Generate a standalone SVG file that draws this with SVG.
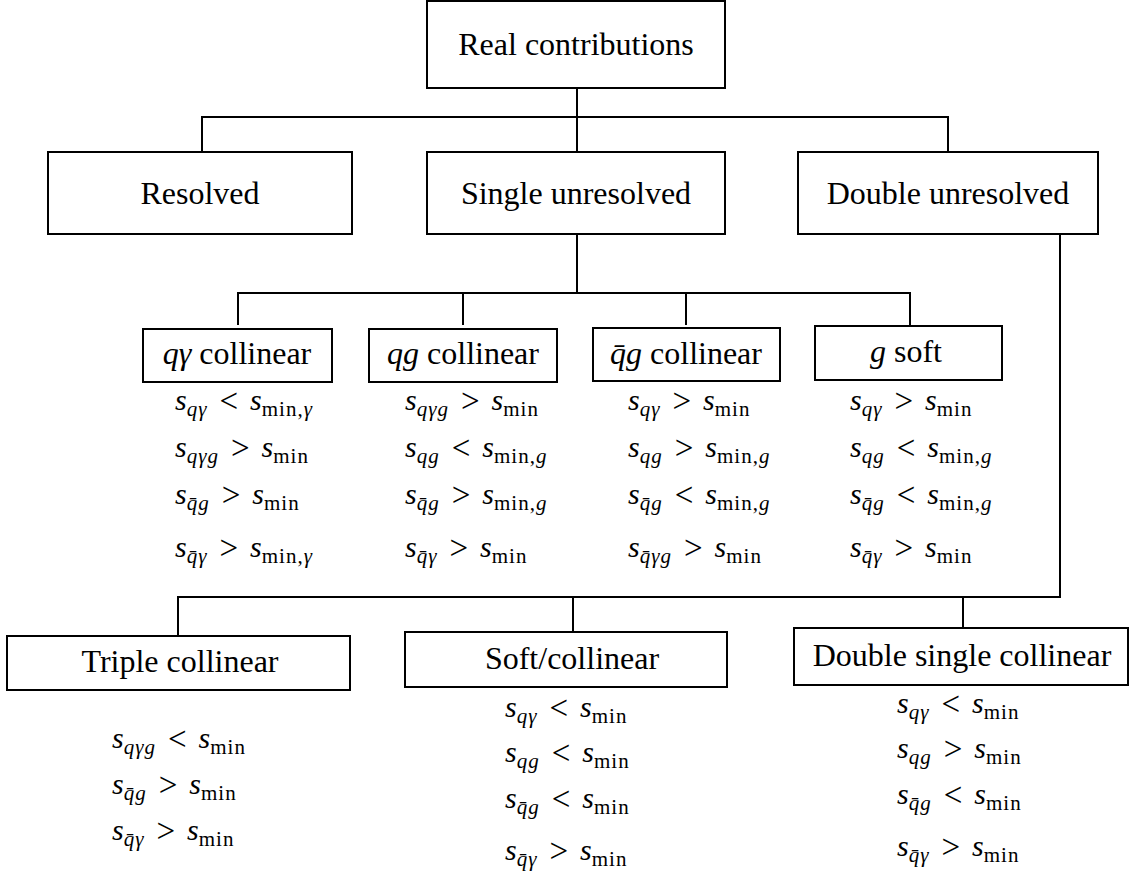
<svg xmlns="http://www.w3.org/2000/svg" width="1139" height="875" viewBox="0 0 1139 875">
<style>
text{font-family:"Liberation Serif","Times New Roman",serif;fill:#000}
.h{font-size:32px;text-anchor:middle}
.c{font-size:30px}
.i{font-style:italic}
.sb{font-size:21px;letter-spacing:1px}
.r{font-size:33px}
rect{fill:#fff;stroke:#000;stroke-width:2}
#connectors path{fill:none;stroke:#000;stroke-width:2}
</style>
<rect x="0" y="0" width="1139" height="875" style="stroke:none"/>
<g id="connectors">
<path d="M577 88V152M202 152V117H948V152"/>
<path d="M577 234V293M238 325V293H910V325M463 293V325M686 293V325"/>
<path d="M1060 234V597H178V636M573 597V632M963 597V628"/>
</g>
<g id="real"><rect x="427" y="1" width="298" height="87"/><text class="h" x="576" y="55">Real contributions</text></g>
<g id="resolved"><rect x="48" y="152" width="304" height="82"/><text class="h" x="200" y="204">Resolved</text></g>
<g id="single"><rect x="427" y="152" width="298" height="82"/><text class="h" x="576" y="204">Single unresolved</text></g>
<g id="double"><rect x="798" y="152" width="300" height="82"/><text class="h" x="948" y="204">Double unresolved</text></g>

<g id="qgamma"><rect x="143" y="329" width="189" height="53"/><text class="h" x="237" y="364"><tspan class="i">qγ</tspan> collinear</text>
<text class="c" x="175" y="410"><tspan class="i">s</tspan><tspan class="sb i" dy="6">qγ</tspan><tspan class="r" dy="-4" dx="12">&lt;</tspan><tspan class="i" dx="12" dy="-2">s</tspan><tspan class="sb" dy="6">min,<tspan class="i">γ</tspan></tspan></text>
<text class="c" x="175" y="457"><tspan class="i">s</tspan><tspan class="sb i" dy="6">qγg</tspan><tspan class="r" dy="-4" dx="12">&gt;</tspan><tspan class="i" dx="12" dy="-2">s</tspan><tspan class="sb" dy="6">min</tspan></text>
<text class="c" x="175" y="504"><tspan class="i">s</tspan><tspan class="sb i" dy="6">q̄g</tspan><tspan class="r" dy="-4" dx="12">&gt;</tspan><tspan class="i" dx="12" dy="-2">s</tspan><tspan class="sb" dy="6">min</tspan></text>
<text class="c" x="175" y="557"><tspan class="i">s</tspan><tspan class="sb i" dy="6">q̄γ</tspan><tspan class="r" dy="-4" dx="12">&gt;</tspan><tspan class="i" dx="12" dy="-2">s</tspan><tspan class="sb" dy="6">min,<tspan class="i">γ</tspan></tspan></text>
</g>

<g id="qg"><rect x="369" y="329" width="188" height="53"/><text class="h" x="463" y="364"><tspan class="i">qg</tspan> collinear</text>
<text class="c" x="405" y="410"><tspan class="i">s</tspan><tspan class="sb i" dy="6">qγg</tspan><tspan class="r" dy="-4" dx="12">&gt;</tspan><tspan class="i" dx="12" dy="-2">s</tspan><tspan class="sb" dy="6">min</tspan></text>
<text class="c" x="405" y="457"><tspan class="i">s</tspan><tspan class="sb i" dy="6">qg</tspan><tspan class="r" dy="-4" dx="12">&lt;</tspan><tspan class="i" dx="12" dy="-2">s</tspan><tspan class="sb" dy="6">min,<tspan class="i">g</tspan></tspan></text>
<text class="c" x="405" y="504"><tspan class="i">s</tspan><tspan class="sb i" dy="6">q̄g</tspan><tspan class="r" dy="-4" dx="12">&gt;</tspan><tspan class="i" dx="12" dy="-2">s</tspan><tspan class="sb" dy="6">min,<tspan class="i">g</tspan></tspan></text>
<text class="c" x="405" y="557"><tspan class="i">s</tspan><tspan class="sb i" dy="6">q̄γ</tspan><tspan class="r" dy="-4" dx="12">&gt;</tspan><tspan class="i" dx="12" dy="-2">s</tspan><tspan class="sb" dy="6">min</tspan></text>
</g>

<g id="qbarg"><rect x="593" y="328" width="187" height="53"/><text class="h" x="686" y="364"><tspan class="i">q̄g</tspan> collinear</text>
<text class="c" x="628" y="410"><tspan class="i">s</tspan><tspan class="sb i" dy="6">qγ</tspan><tspan class="r" dy="-4" dx="12">&gt;</tspan><tspan class="i" dx="12" dy="-2">s</tspan><tspan class="sb" dy="6">min</tspan></text>
<text class="c" x="628" y="457"><tspan class="i">s</tspan><tspan class="sb i" dy="6">qg</tspan><tspan class="r" dy="-4" dx="12">&gt;</tspan><tspan class="i" dx="12" dy="-2">s</tspan><tspan class="sb" dy="6">min,<tspan class="i">g</tspan></tspan></text>
<text class="c" x="628" y="504"><tspan class="i">s</tspan><tspan class="sb i" dy="6">q̄g</tspan><tspan class="r" dy="-4" dx="12">&lt;</tspan><tspan class="i" dx="12" dy="-2">s</tspan><tspan class="sb" dy="6">min,<tspan class="i">g</tspan></tspan></text>
<text class="c" x="628" y="557"><tspan class="i">s</tspan><tspan class="sb i" dy="6">q̄γg</tspan><tspan class="r" dy="-4" dx="12">&gt;</tspan><tspan class="i" dx="12" dy="-2">s</tspan><tspan class="sb" dy="6">min</tspan></text>
</g>

<g id="gsoft"><rect x="815" y="326" width="187" height="54"/><text class="h" x="906" y="362"><tspan class="i">g</tspan> soft</text>
<text class="c" x="850" y="410"><tspan class="i">s</tspan><tspan class="sb i" dy="6">qγ</tspan><tspan class="r" dy="-4" dx="12">&gt;</tspan><tspan class="i" dx="12" dy="-2">s</tspan><tspan class="sb" dy="6">min</tspan></text>
<text class="c" x="850" y="457"><tspan class="i">s</tspan><tspan class="sb i" dy="6">qg</tspan><tspan class="r" dy="-4" dx="12">&lt;</tspan><tspan class="i" dx="12" dy="-2">s</tspan><tspan class="sb" dy="6">min,<tspan class="i">g</tspan></tspan></text>
<text class="c" x="850" y="504"><tspan class="i">s</tspan><tspan class="sb i" dy="6">q̄g</tspan><tspan class="r" dy="-4" dx="12">&lt;</tspan><tspan class="i" dx="12" dy="-2">s</tspan><tspan class="sb" dy="6">min,<tspan class="i">g</tspan></tspan></text>
<text class="c" x="850" y="557"><tspan class="i">s</tspan><tspan class="sb i" dy="6">q̄γ</tspan><tspan class="r" dy="-4" dx="12">&gt;</tspan><tspan class="i" dx="12" dy="-2">s</tspan><tspan class="sb" dy="6">min</tspan></text>
</g>

<g id="triple"><rect x="7" y="636" width="343" height="54"/><text class="h" x="180" y="672">Triple collinear</text>
<text class="c" x="112" y="748"><tspan class="i">s</tspan><tspan class="sb i" dy="6">qγg</tspan><tspan class="r" dy="-4" dx="12">&lt;</tspan><tspan class="i" dx="12" dy="-2">s</tspan><tspan class="sb" dy="6">min</tspan></text>
<text class="c" x="112" y="794"><tspan class="i">s</tspan><tspan class="sb i" dy="6">q̄g</tspan><tspan class="r" dy="-4" dx="12">&gt;</tspan><tspan class="i" dx="12" dy="-2">s</tspan><tspan class="sb" dy="6">min</tspan></text>
<text class="c" x="112" y="840"><tspan class="i">s</tspan><tspan class="sb i" dy="6">q̄γ</tspan><tspan class="r" dy="-4" dx="12">&gt;</tspan><tspan class="i" dx="12" dy="-2">s</tspan><tspan class="sb" dy="6">min</tspan></text>
</g>

<g id="softcoll"><rect x="405" y="632" width="322" height="55"/><text class="h" x="572" y="669">Soft/collinear</text>
<text class="c" x="505" y="717"><tspan class="i">s</tspan><tspan class="sb i" dy="6">qγ</tspan><tspan class="r" dy="-4" dx="12">&lt;</tspan><tspan class="i" dx="12" dy="-2">s</tspan><tspan class="sb" dy="6">min</tspan></text>
<text class="c" x="505" y="762"><tspan class="i">s</tspan><tspan class="sb i" dy="6">qg</tspan><tspan class="r" dy="-4" dx="12">&lt;</tspan><tspan class="i" dx="12" dy="-2">s</tspan><tspan class="sb" dy="6">min</tspan></text>
<text class="c" x="505" y="808"><tspan class="i">s</tspan><tspan class="sb i" dy="6">q̄g</tspan><tspan class="r" dy="-4" dx="12">&lt;</tspan><tspan class="i" dx="12" dy="-2">s</tspan><tspan class="sb" dy="6">min</tspan></text>
<text class="c" x="505" y="860"><tspan class="i">s</tspan><tspan class="sb i" dy="6">q̄γ</tspan><tspan class="r" dy="-4" dx="12">&gt;</tspan><tspan class="i" dx="12" dy="-2">s</tspan><tspan class="sb" dy="6">min</tspan></text>
</g>

<g id="dblsingle"><rect x="794" y="628" width="334" height="57"/><text class="h" x="962" y="666">Double single collinear</text>
<text class="c" x="897" y="713"><tspan class="i">s</tspan><tspan class="sb i" dy="6">qγ</tspan><tspan class="r" dy="-4" dx="12">&lt;</tspan><tspan class="i" dx="12" dy="-2">s</tspan><tspan class="sb" dy="6">min</tspan></text>
<text class="c" x="897" y="758"><tspan class="i">s</tspan><tspan class="sb i" dy="6">qg</tspan><tspan class="r" dy="-4" dx="12">&gt;</tspan><tspan class="i" dx="12" dy="-2">s</tspan><tspan class="sb" dy="6">min</tspan></text>
<text class="c" x="897" y="804"><tspan class="i">s</tspan><tspan class="sb i" dy="6">q̄g</tspan><tspan class="r" dy="-4" dx="12">&lt;</tspan><tspan class="i" dx="12" dy="-2">s</tspan><tspan class="sb" dy="6">min</tspan></text>
<text class="c" x="897" y="856"><tspan class="i">s</tspan><tspan class="sb i" dy="6">q̄γ</tspan><tspan class="r" dy="-4" dx="12">&gt;</tspan><tspan class="i" dx="12" dy="-2">s</tspan><tspan class="sb" dy="6">min</tspan></text>
</g>
</svg>
